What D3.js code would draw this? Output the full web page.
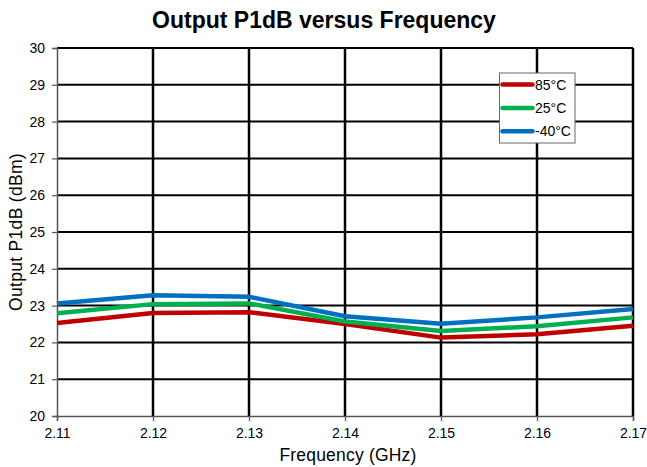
<!DOCTYPE html>
<html>
<head>
<meta charset="utf-8">
<script src="https://cdn.jsdelivr.net/npm/d3@7"></script>
<style>
  html, body { margin: 0; padding: 0; background: #fff; }
  svg { display: block; font-family: "Liberation Sans", Arial, sans-serif; }
</style>
</head>
<body>
<svg id="chart" width="647" height="467"></svg>
<script>
// Frequency points (GHz)
const frequencies = [2.11, 2.12, 2.13, 2.14, 2.15, 2.16, 2.17];

// Output P1dB (dBm) per temperature
const p1dB_85C  = [22.53, 22.80, 22.82, 22.50, 22.13, 22.22, 22.45];
const p1dB_25C  = [22.79, 23.04, 23.06, 22.57, 22.31, 22.44, 22.68];
const p1dB_m40C = [23.06, 23.28, 23.24, 22.71, 22.51, 22.68, 22.91];

const seriesNames  = ["85°C", "25°C", "-40°C"];
const seriesColors = ["#c00000", "#00b050", "#0070c0"];
const yTicks = [20, 21, 22, 23, 24, 25, 26, 27, 28, 29, 30];

const series = [p1dB_85C, p1dB_25C, p1dB_m40C].map((vals, i) => ({
  name: seriesNames[i],
  color: seriesColors[i],
  points: vals.map((v, j) => ({ f: frequencies[j], v }))
}));

const svg = d3.select("#chart");
const margin = { left: 57, right: 14, top: 48, bottom: 51 };
const W = 647, H = 467;

const x = d3.scaleLinear().domain([2.11, 2.17]).range([margin.left, W - margin.right]);
const y = d3.scaleLinear().domain([20, 30]).range([H - margin.bottom, margin.top]);

// Title
svg.append("text")
  .attr("x", 324).attr("y", 28)
  .attr("text-anchor", "middle")
  .attr("font-size", 23).attr("font-weight", "bold")
  .text("Output P1dB versus Frequency");

// Grid
const grid = svg.append("g");
grid.selectAll("line.h").data(yTicks.slice(1)).join("line")
  .attr("x1", x(2.11)).attr("x2", x(2.17))
  .attr("y1", d => y(d)).attr("y2", d => y(d))
  .attr("stroke", "#000").attr("stroke-width", 2);
grid.selectAll("line.v").data(frequencies.slice(1)).join("line")
  .attr("x1", d => x(d)).attr("x2", d => x(d))
  .attr("y1", y(20)).attr("y2", y(30))
  .attr("stroke", "#000").attr("stroke-width", 2.5);

// Axes
const yAxis = d3.axisLeft(y).tickValues(yTicks).tickSize(5).tickPadding(7).tickFormat(d3.format("d"));
const xAxis = d3.axisBottom(x).tickValues(frequencies).tickSize(5).tickPadding(7).tickFormat(d3.format(".2f"));

const gy = svg.append("g").attr("transform", `translate(${margin.left},0)`).call(yAxis);
const gx = svg.append("g").attr("transform", `translate(0,${H - margin.bottom})`).call(xAxis);
[gy, gx].forEach(g => {
  g.select(".domain").attr("stroke", "#555").attr("stroke-width", 1.5);
  g.selectAll(".tick line").attr("stroke", "#555").attr("stroke-width", 1.2);
  g.selectAll(".tick text").attr("font-size", 14).attr("fill", "#000")
    .attr("font-family", "'Liberation Sans', Arial, sans-serif");
});

// Axis titles
svg.append("text")
  .attr("x", 348).attr("y", 461)
  .attr("text-anchor", "middle").attr("font-size", 17.5)
  .attr("letter-spacing", 0.2)
  .text("Frequency (GHz)");
svg.append("text")
  .attr("transform", `translate(22,${(y(20) + y(30)) / 2}) rotate(-90)`)
  .attr("text-anchor", "middle").attr("font-size", 17.5)
  .attr("letter-spacing", 0.3)
  .text("Output P1dB (dBm)");

// Data lines
const line = d3.line().x(d => x(d.f)).y(d => y(d.v));
svg.append("g").selectAll("path").data(series).join("path")
  .attr("d", d => line(d.points))
  .attr("fill", "none")
  .attr("stroke", d => d.color)
  .attr("stroke-width", 4.5)
  .attr("stroke-linejoin", "round");

// Legend
const lg = svg.append("g").attr("transform", "translate(499.5,73)");
lg.append("rect").attr("width", 75.5).attr("height", 70)
  .attr("fill", "#fff").attr("stroke", "#666").attr("stroke-width", 1);
const rows = lg.selectAll("g").data(series).join("g")
  .attr("transform", (d, i) => `translate(0,${11.5 + i * 23.4})`);
rows.append("line").attr("x1", 3).attr("x2", 33)
  .attr("stroke", d => d.color).attr("stroke-width", 4.5).attr("stroke-linecap", "round");
rows.append("text").attr("x", 35.5).attr("y", 5)
  .attr("font-size", 14).text(d => d.name);
</script>
</body>
</html>
